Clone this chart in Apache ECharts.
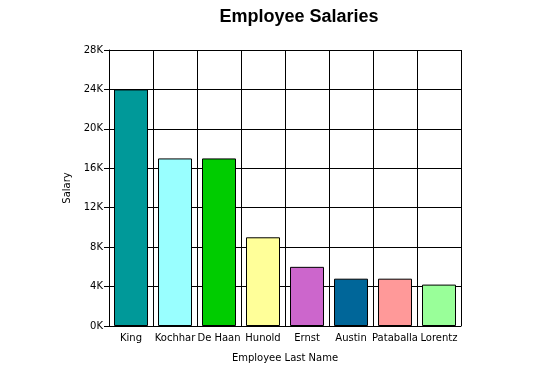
<!DOCTYPE html>
<html>
<head>
<meta charset="utf-8">
<script src="https://cdn.jsdelivr.net/npm/echarts@6/dist/echarts.min.js"></script>
<style>
  html, body { margin: 0; padding: 0; background: #fff; }
  #chart { width: 547px; height: 377px; }
</style>
</head>
<body>
<div id="chart"></div>
<script>
// employee salaries data
const names = ['King', 'Kochhar', 'De Haan', 'Hunold', 'Ernst', 'Austin', 'Pataballa', 'Lorentz'];
const salaries = [24000, 17000, 17000, 9000, 6000, 4800, 4800, 4200];
const barColors = ['#009999', '#99ffff', '#00cc00', '#ffff99', '#cc66cc', '#006699', '#ff9999', '#99ff99'];

const chart = echarts.init(document.getElementById('chart'));
chart.setOption({
  animation: false,
  title: {
    text: 'Employee Salaries',
    left: 294,
    textAlign: 'center',
    top: 3,
    textStyle: { fontFamily: 'Liberation Sans', fontSize: 18, fontWeight: 'bold', color: '#000' }
  },
  grid: { left: 109, right: 86, top: 50, bottom: 51 },
  xAxis: {
    type: 'category',
    data: names,
    name: 'Employee Last Name',
    nameLocation: 'middle',
    nameGap: 27,
    nameTextStyle: { fontFamily: 'DejaVu Sans', fontSize: 10, color: '#000' },
    axisLine: { lineStyle: { color: '#000' } },
    axisTick: { show: false },
    axisLabel: { fontFamily: 'DejaVu Sans', fontSize: 10, color: '#000', margin: 7, interval: 0 },
    splitLine: { show: true, lineStyle: { color: '#000' } }
  },
  yAxis: {
    type: 'value',
    min: 0,
    max: 28000,
    interval: 4000,
    name: 'Salary',
    nameLocation: 'middle',
    nameGap: 34,
    nameTextStyle: { fontFamily: 'DejaVu Sans', fontSize: 10, color: '#000' },
    axisLine: { show: true, lineStyle: { color: '#000' } },
    axisTick: { show: true, length: 5, lineStyle: { color: '#000' } },
    axisLabel: {
      fontFamily: 'DejaVu Sans', fontSize: 10, color: '#000', margin: 6,
      formatter: v => (v / 1000) + 'K'
    },
    splitLine: { show: true, lineStyle: { color: '#000' } }
  },
  series: [{
    type: 'bar',
    data: salaries.map((v, i) => ({ value: v, itemStyle: { color: barColors[i] } })),
    barWidth: 34,
    itemStyle: { borderColor: '#000', borderWidth: 1 }
  }]
});
</script>
</body>
</html>
